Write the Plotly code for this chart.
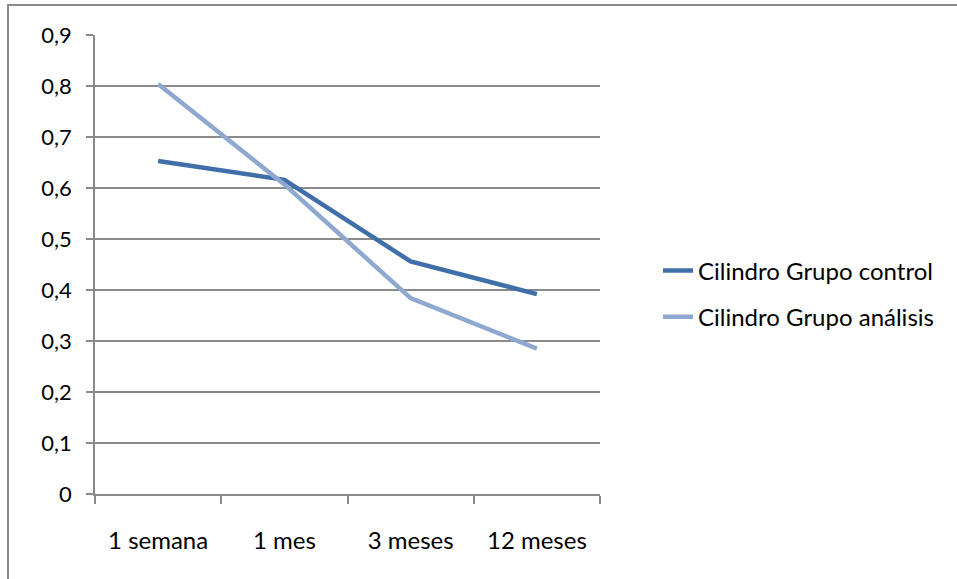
import plotly.graph_objects as go

# Categories and series values
periods = ["1 semana", "1 mes", "3 meses", "12 meses"]
grupo_control = [0.653, 0.616, 0.456, 0.392]
grupo_analisis = [0.804, 0.607, 0.384, 0.285]
series_names = ["Cilindro Grupo control", "Cilindro Grupo análisis"]
y_ticks = [0, 0.1, 0.2, 0.3, 0.4, 0.5, 0.6, 0.7, 0.8, 0.9]
y_tick_text = ["0", "0,1", "0,2", "0,3", "0,4", "0,5", "0,6", "0,7", "0,8", "0,9"]

W, H = 957, 579
L, R, T, B = 95, 357, 35, 85
FONT = "Lato"
GRID = "#8a8a8a"

fig = go.Figure()
fig.add_trace(go.Scatter(x=periods, y=grupo_control, mode="lines", name=series_names[0],
                         legendgroup="a",
                         line=dict(color="#3f6ea8", width=4.5)))
fig.add_trace(go.Scatter(x=periods, y=grupo_analisis, mode="lines", name=series_names[1],
                         legendgroup="b",
                         line=dict(color="#8ea8cf", width=4.5)))

pw = W - L - R
ph = H - T - B
# outer chart frame (top and left edges visible)
fig.add_shape(type="rect", xref="paper", yref="paper",
              x0=(8 - L) / pw, x1=(W + 20 - L) / pw,
              y0=-(H + 20 - (H - B)) / ph, y1=(H - B - 5) / ph,
              line=dict(color="#8a8a8a", width=2), fillcolor="rgba(0,0,0,0)", layer="below")

fig.update_layout(
    width=W, height=H,
    margin=dict(l=L, r=R, t=T, b=B),
    paper_bgcolor="white", plot_bgcolor="white",
    font=dict(family=FONT, size=24, color="#000000"),
    showlegend=True,
    legend=dict(x=(658 - L) / pw, y=(H - B - 294) / ph, xanchor="left", yanchor="middle",
                font=dict(family=FONT, size=24), bgcolor="rgba(0,0,0,0)",
                tracegroupgap=12, traceorder="grouped", itemwidth=30),
    xaxis=dict(type="category", showgrid=False, showline=True, linecolor=GRID, linewidth=1.5,
               ticks="outside", tickson="boundaries", ticklen=8, tickcolor=GRID, tickwidth=1.5,
               tickfont=dict(size=24),
               ticklabelstandoff=24, range=[-0.5, 3.5], fixedrange=True),
    yaxis=dict(range=[0, 0.9], tickvals=y_ticks, ticktext=y_tick_text,
               showgrid=True, gridcolor=GRID, gridwidth=1.5, zeroline=False,
               showline=True, linecolor=GRID, linewidth=1.5,
               ticks="outside", ticklen=7, tickcolor=GRID, tickwidth=1.5,
               tickfont=dict(size=22),
               ticklabelstandoff=10, fixedrange=True),
)

fig.write_html("out.html")
